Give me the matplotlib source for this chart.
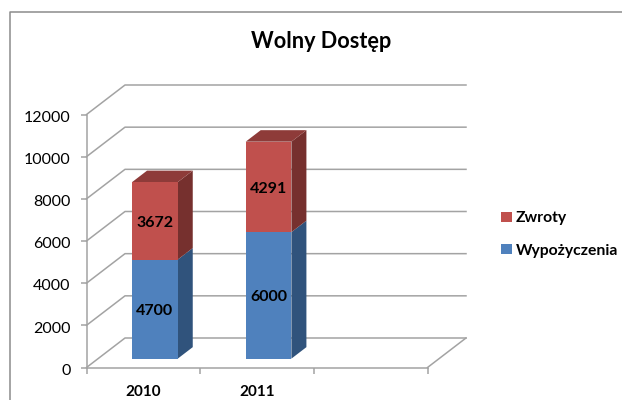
import matplotlib
matplotlib.use("Agg")
import matplotlib.pyplot as plt
from matplotlib.patches import Polygon, Patch
from matplotlib.lines import Line2D
from matplotlib.transforms import ScaledTranslation

title = "Wolny Dostęp"
categories = ["2010", "2011"]
wypozyczenia = [4700, 6000]
zwroty = [3672, 4291]
y_ticks = [0, 2000, 4000, 6000, 8000, 10000, 12000]
n_slots = 3

W, H = 622, 400
plt.rcParams["font.family"] = ["Lato", "DejaVu Sans"]
fig = plt.figure(figsize=(W / 100, H / 100), dpi=100)
L, R, B, T = 86.5, 427.5, 367.5, 114.5
ax = fig.add_axes([L / W, 1 - B / H, (R - L) / W, (B - T) / H])
ax.set_xlim(0, n_slots)
ax.set_ylim(0, 12000)
ax.patch.set_visible(False)

GREY = "#a3a3a3"
DX = 38.5 / ((R - L) / n_slots)      # wall depth in category units
DY = 29.5 / ((B - T) / 12000)        # wall depth in value units


def pr(x, v, d):
    return (x + d * DX, v + d * DY)


# wall gridlines and floor
for v in y_ticks:
    xs, ys = zip(pr(0, v, 0), pr(0, v, 1), pr(n_slots, v, 1))
    ax.plot(xs, ys, color=GREY, lw=1.1, clip_on=False, zorder=1)
xs, ys = zip(pr(n_slots, 0, 0), pr(n_slots, 0, 1))
ax.plot(xs, ys, color=GREY, lw=1.1, clip_on=False, zorder=1)

# stacked 3D bars
BW = 0.402
D0, D1 = 0.30, 0.69
BLUE, BLUE_S = "#4f81bd", "#30537c"
RED, RED_S, RED_T = "#c0504d", "#76302e", "#8e3b39"


def block(cx, v0, v1, face, side, top=None):
    x0, x1 = cx - BW / 2, cx + BW / 2
    kw = dict(clip_on=False, linewidth=0)
    ax.add_patch(Polygon([pr(x1, v0, D0), pr(x1, v0, D1), pr(x1, v1, D1), pr(x1, v1, D0)],
                         facecolor=side, zorder=3, **kw))
    if top:
        ax.add_patch(Polygon([pr(x0, v1, D0), pr(x1, v1, D0), pr(x1, v1, D1), pr(x0, v1, D1)],
                             facecolor=top, zorder=3, **kw))
    ax.add_patch(Polygon([pr(x0, v0, D0), pr(x1, v0, D0), pr(x1, v1, D0), pr(x0, v1, D0)],
                         facecolor=face, zorder=4, **kw))


for i, (a, b) in enumerate(zip(wypozyczenia, zwroty)):
    c = i + 0.5
    block(c, 0, a, BLUE, BLUE_S)
    block(c, a, a + b, RED, RED_S, RED_T)
    for v0, v in ((0, a), (a, b)):
        ax.annotate(str(v), xy=pr(c, v0 + v / 2, D0), xytext=(0, -1.4), textcoords="offset points",
                    ha="center", va="center", fontsize=11.5, fontweight="bold", color="black",
                    zorder=5, annotation_clip=False)

# axes
for s in ("top", "right"):
    ax.spines[s].set_visible(False)
for s in ("left", "bottom"):
    ax.spines[s].set_color(GREY)
    ax.spines[s].set_linewidth(1.1)
    ax.spines[s].set_zorder(2)
ax.set_yticks(y_ticks)
ax.set_yticklabels([str(v) for v in y_ticks])
ax.tick_params(axis="y", length=4.3, width=1.1, color=GREY, labelsize=11.5, pad=7.2, labelcolor="black")
shift = ScaledTranslation(0, -1.8 / 100, fig.dpi_scale_trans)
for lab in ax.get_yticklabels():
    lab.set_transform(lab.get_transform() + shift)
ax.set_xticks(range(n_slots + 1))
ax.set_xticklabels([])
ax.tick_params(axis="x", length=4.3, width=1.1, color=GREY)
for i, c in enumerate(categories):
    ax.annotate(c, xy=(i + 0.5, 0), xycoords=("data", "axes fraction"), xytext=(0, -25 * 0.72),
                textcoords="offset points", ha="center", va="center", fontsize=11, fontweight="bold")

# title
fig.text(321 / W, 1 - 41.5 / H, title, ha="center", va="center", fontsize=15.6, fontweight="bold", color="black")

# legend
handles = [Patch(facecolor=RED, label="Zwroty"), Patch(facecolor=BLUE, label="Wypożyczenia")]
fig.legend(handles=handles, loc="center left", bbox_to_anchor=(495 / W, 1 - 234.5 / H), frameon=False,
           prop=dict(size=11.3, weight="bold"), handlelength=0.66, handleheight=0.66, handletextpad=0.25,
           labelspacing=1.15, borderpad=0.4, borderaxespad=0)

# outer frame, running off the picture to the right and bottom
fig.add_artist(Line2D([9.5 / W, 9.5 / W, 1], [0, 1 - 11.5 / H, 1 - 11.5 / H], color="#8c8c8c", lw=1.1,
                      transform=fig.transFigure))

fig.savefig("out.png", dpi=100, facecolor="white")
